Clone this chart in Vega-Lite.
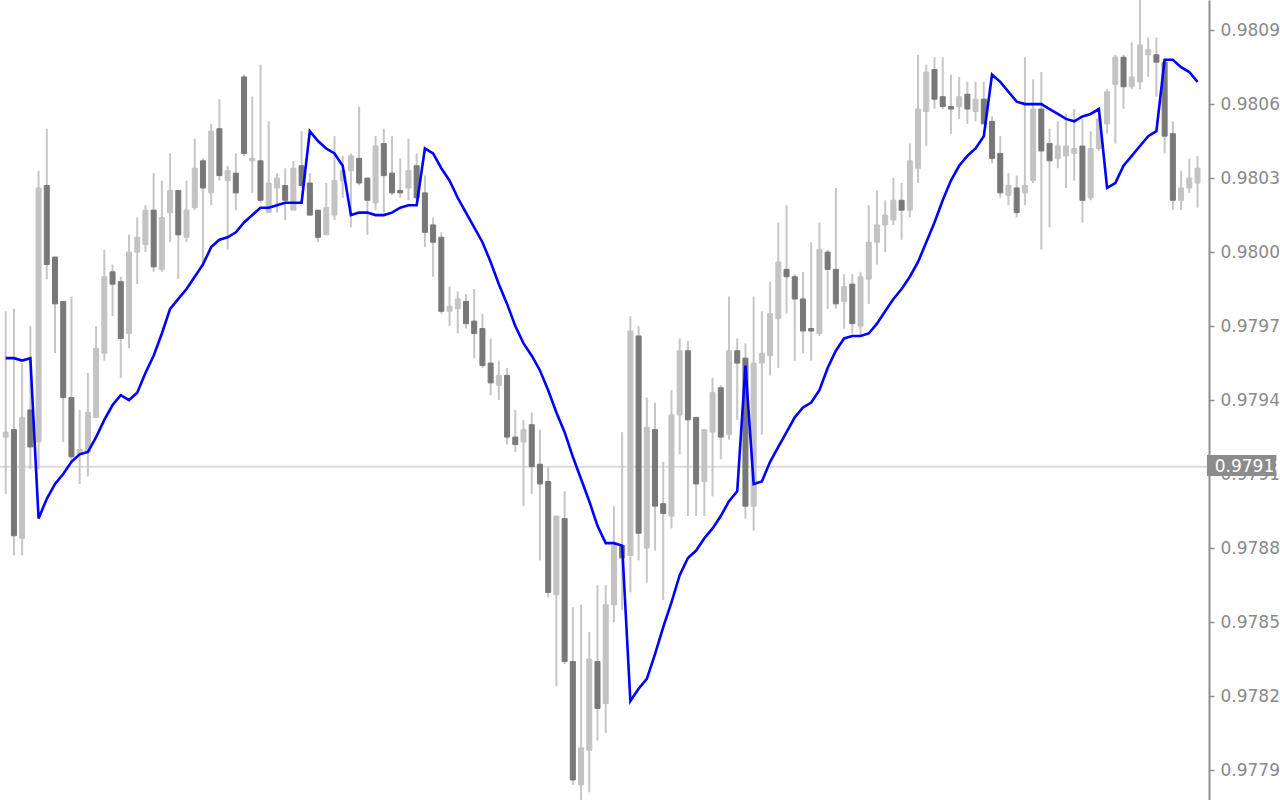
{
  "$schema": "https://vega.github.io/schema/vega-lite/v6.json",
  "width": 1209,
  "height": 800,
  "autosize": {"type": "none"},
  "padding": {"left": 0, "top": 0, "right": 71, "bottom": 0},
  "background": "white",
  "config": {"view": {"stroke": null}},
  "datasets": {
    "bars": [
      {"t":0,"o":0.97930,"h":0.97981,"l":0.97907,"c":0.97932,"m":0.97962},
      {"t":1,"o":0.97933,"h":0.97982,"l":0.97882,"c":0.97890,"m":0.97962},
      {"t":2,"o":0.97889,"h":0.97960,"l":0.97882,"c":0.97938,"m":0.97961},
      {"t":3,"o":0.97941,"h":0.97975,"l":0.97917,"c":0.97926,"m":0.97962},
      {"t":4,"o":0.97928,"h":0.98038,"l":0.97917,"c":0.98031,"m":0.97897},
      {"t":5,"o":0.98032,"h":0.98055,"l":0.97994,"c":0.98000,"m":0.97905},
      {"t":6,"o":0.98003,"h":0.98003,"l":0.97964,"c":0.97984,"m":0.97911},
      {"t":7,"o":0.97985,"h":0.97985,"l":0.97928,"c":0.97946,"m":0.97915},
      {"t":8,"o":0.97946,"h":0.97987,"l":0.97920,"c":0.97922,"m":0.97920},
      {"t":9,"o":0.97923,"h":0.97941,"l":0.97911,"c":0.97925,"m":0.97923},
      {"t":10,"o":0.97924,"h":0.97956,"l":0.97914,"c":0.97940,"m":0.97924},
      {"t":11,"o":0.97938,"h":0.97975,"l":0.97938,"c":0.97966,"m":0.97930},
      {"t":12,"o":0.97964,"h":0.98006,"l":0.97961,"c":0.97995,"m":0.97937},
      {"t":13,"o":0.97997,"h":0.98000,"l":0.97979,"c":0.97992,"m":0.97943},
      {"t":14,"o":0.97993,"h":0.97995,"l":0.97954,"c":0.97970,"m":0.97947},
      {"t":15,"o":0.97972,"h":0.98012,"l":0.97966,"c":0.98005,"m":0.97945},
      {"t":16,"o":0.98005,"h":0.98019,"l":0.97992,"c":0.98011,"m":0.97948},
      {"t":17,"o":0.98008,"h":0.98024,"l":0.98005,"c":0.98022,"m":0.97956},
      {"t":18,"o":0.98022,"h":0.98037,"l":0.97997,"c":0.97999,"m":0.97963},
      {"t":19,"o":0.97998,"h":0.98034,"l":0.97997,"c":0.98019,"m":0.97972},
      {"t":20,"o":0.98021,"h":0.98045,"l":0.98009,"c":0.98030,"m":0.97982},
      {"t":21,"o":0.98030,"h":0.98030,"l":0.97994,"c":0.98012,"m":0.97986},
      {"t":22,"o":0.98011,"h":0.98034,"l":0.98009,"c":0.98022,"m":0.97990},
      {"t":23,"o":0.98023,"h":0.98051,"l":0.98022,"c":0.98039,"m":0.97995},
      {"t":24,"o":0.98042,"h":0.98043,"l":0.97999,"c":0.98031,"m":0.98000},
      {"t":25,"o":0.98029,"h":0.98057,"l":0.98024,"c":0.98054,"m":0.98007},
      {"t":26,"o":0.98055,"h":0.98067,"l":0.98034,"c":0.98036,"m":0.98010},
      {"t":27,"o":0.98034,"h":0.98040,"l":0.98006,"c":0.98038,"m":0.98011},
      {"t":28,"o":0.98037,"h":0.98045,"l":0.98022,"c":0.98029,"m":0.98013},
      {"t":29,"o":0.98076,"h":0.98077,"l":0.98044,"c":0.98045,"m":0.98017},
      {"t":30,"o":0.98042,"h":0.98068,"l":0.98029,"c":0.98043,"m":0.98020},
      {"t":31,"o":0.98042,"h":0.98081,"l":0.98025,"c":0.98026,"m":0.98023},
      {"t":32,"o":0.98021,"h":0.98058,"l":0.98021,"c":0.98033,"m":0.98023},
      {"t":33,"o":0.98031,"h":0.98037,"l":0.98021,"c":0.98035,"m":0.98024},
      {"t":34,"o":0.98032,"h":0.98039,"l":0.98018,"c":0.98026,"m":0.98025},
      {"t":35,"o":0.98022,"h":0.98042,"l":0.98022,"c":0.98039,"m":0.98025},
      {"t":36,"o":0.98040,"h":0.98054,"l":0.98031,"c":0.98032,"m":0.98025},
      {"t":37,"o":0.98033,"h":0.98037,"l":0.98020,"c":0.98020,"m":0.98054},
      {"t":38,"o":0.98022,"h":0.98022,"l":0.98009,"c":0.98011,"m":0.98050},
      {"t":39,"o":0.98012,"h":0.98033,"l":0.98012,"c":0.98023,"m":0.98047},
      {"t":40,"o":0.98020,"h":0.98052,"l":0.98018,"c":0.98034,"m":0.98045},
      {"t":41,"o":0.98034,"h":0.98044,"l":0.98027,"c":0.98038,"m":0.98040},
      {"t":42,"o":0.98038,"h":0.98045,"l":0.98015,"c":0.98044,"m":0.98020},
      {"t":43,"o":0.98043,"h":0.98064,"l":0.98032,"c":0.98033,"m":0.98021},
      {"t":44,"o":0.98035,"h":0.98035,"l":0.98012,"c":0.98026,"m":0.98021},
      {"t":45,"o":0.98025,"h":0.98052,"l":0.98022,"c":0.98048,"m":0.98020},
      {"t":46,"o":0.98049,"h":0.98055,"l":0.98021,"c":0.98036,"m":0.98020},
      {"t":47,"o":0.98037,"h":0.98052,"l":0.98028,"c":0.98029,"m":0.98021},
      {"t":48,"o":0.98030,"h":0.98043,"l":0.98027,"c":0.98029,"m":0.98023},
      {"t":49,"o":0.98031,"h":0.98051,"l":0.98026,"c":0.98038,"m":0.98024},
      {"t":50,"o":0.98040,"h":0.98045,"l":0.98026,"c":0.98027,"m":0.98024},
      {"t":51,"o":0.98029,"h":0.98036,"l":0.98007,"c":0.98013,"m":0.98047},
      {"t":52,"o":0.98016,"h":0.98019,"l":0.97995,"c":0.98009,"m":0.98045},
      {"t":53,"o":0.98011,"h":0.98013,"l":0.97980,"c":0.97981,"m":0.98039},
      {"t":54,"o":0.97981,"h":0.97991,"l":0.97975,"c":0.97983,"m":0.98034},
      {"t":55,"o":0.97982,"h":0.97989,"l":0.97972,"c":0.97986,"m":0.98027},
      {"t":56,"o":0.97985,"h":0.97988,"l":0.97974,"c":0.97976,"m":0.98021},
      {"t":57,"o":0.97977,"h":0.97990,"l":0.97962,"c":0.97972,"m":0.98015},
      {"t":58,"o":0.97974,"h":0.97980,"l":0.97958,"c":0.97959,"m":0.98009},
      {"t":59,"o":0.97960,"h":0.97970,"l":0.97947,"c":0.97952,"m":0.98001},
      {"t":60,"o":0.97951,"h":0.97961,"l":0.97945,"c":0.97955,"m":0.97992},
      {"t":61,"o":0.97955,"h":0.97958,"l":0.97927,"c":0.97930,"m":0.97984},
      {"t":62,"o":0.97930,"h":0.97941,"l":0.97924,"c":0.97927,"m":0.97975},
      {"t":63,"o":0.97928,"h":0.97937,"l":0.97902,"c":0.97933,"m":0.97968},
      {"t":64,"o":0.97935,"h":0.97940,"l":0.97907,"c":0.97918,"m":0.97963},
      {"t":65,"o":0.97919,"h":0.97933,"l":0.97880,"c":0.97911,"m":0.97957},
      {"t":66,"o":0.97912,"h":0.97918,"l":0.97865,"c":0.97867,"m":0.97949},
      {"t":67,"o":0.97866,"h":0.97898,"l":0.97829,"c":0.97898,"m":0.97940},
      {"t":68,"o":0.97897,"h":0.97908,"l":0.97838,"c":0.97839,"m":0.97932},
      {"t":69,"o":0.97839,"h":0.97861,"l":0.97789,"c":0.97791,"m":0.97922},
      {"t":70,"o":0.97789,"h":0.97862,"l":0.97782,"c":0.97804,"m":0.97913},
      {"t":71,"o":0.97803,"h":0.97851,"l":0.97786,"c":0.97840,"m":0.97904},
      {"t":72,"o":0.97839,"h":0.97870,"l":0.97807,"c":0.97820,"m":0.97894},
      {"t":73,"o":0.97822,"h":0.97870,"l":0.97810,"c":0.97862,"m":0.97887},
      {"t":74,"o":0.97862,"h":0.97902,"l":0.97855,"c":0.97886,"m":0.97887},
      {"t":75,"o":0.97886,"h":0.97932,"l":0.97860,"c":0.97881,"m":0.97886},
      {"t":76,"o":0.97882,"h":0.97979,"l":0.97867,"c":0.97973,"m":0.97823},
      {"t":77,"o":0.97971,"h":0.97975,"l":0.97880,"c":0.97891,"m":0.97828},
      {"t":78,"o":0.97885,"h":0.97946,"l":0.97871,"c":0.97934,"m":0.97832},
      {"t":79,"o":0.97933,"h":0.97944,"l":0.97884,"c":0.97902,"m":0.97842},
      {"t":80,"o":0.97903,"h":0.97920,"l":0.97864,"c":0.97899,"m":0.97853},
      {"t":81,"o":0.97898,"h":0.97949,"l":0.97893,"c":0.97939,"m":0.97863},
      {"t":82,"o":0.97939,"h":0.97970,"l":0.97923,"c":0.97965,"m":0.97874},
      {"t":83,"o":0.97965,"h":0.97969,"l":0.97898,"c":0.97937,"m":0.97881},
      {"t":84,"o":0.97938,"h":0.97938,"l":0.97898,"c":0.97911,"m":0.97884},
      {"t":85,"o":0.97912,"h":0.97933,"l":0.97898,"c":0.97933,"m":0.97889},
      {"t":86,"o":0.97932,"h":0.97954,"l":0.97906,"c":0.97948,"m":0.97893},
      {"t":87,"o":0.97950,"h":0.97951,"l":0.97921,"c":0.97930,"m":0.97898},
      {"t":88,"o":0.97931,"h":0.97987,"l":0.97929,"c":0.97965,"m":0.97904},
      {"t":89,"o":0.97965,"h":0.97970,"l":0.97937,"c":0.97960,"m":0.97908},
      {"t":90,"o":0.97962,"h":0.97968,"l":0.97897,"c":0.97902,"m":0.97959},
      {"t":91,"o":0.97902,"h":0.97987,"l":0.97892,"c":0.97960,"m":0.97911},
      {"t":92,"o":0.97960,"h":0.97981,"l":0.97931,"c":0.97964,"m":0.97912},
      {"t":93,"o":0.97963,"h":0.97993,"l":0.97955,"c":0.97980,"m":0.97920},
      {"t":94,"o":0.97978,"h":0.98017,"l":0.97958,"c":0.98001,"m":0.97926},
      {"t":95,"o":0.97998,"h":0.98024,"l":0.97980,"c":0.97995,"m":0.97932},
      {"t":96,"o":0.97995,"h":0.97996,"l":0.97961,"c":0.97986,"m":0.97938},
      {"t":97,"o":0.97986,"h":0.97997,"l":0.97964,"c":0.97973,"m":0.97942},
      {"t":98,"o":0.97974,"h":0.98009,"l":0.97961,"c":0.97973,"m":0.97944},
      {"t":99,"o":0.97972,"h":0.98017,"l":0.97971,"c":0.98006,"m":0.97949},
      {"t":100,"o":0.98005,"h":0.98006,"l":0.97982,"c":0.97998,"m":0.97958},
      {"t":101,"o":0.97998,"h":0.98031,"l":0.97982,"c":0.97984,"m":0.97965},
      {"t":102,"o":0.97985,"h":0.97996,"l":0.97974,"c":0.97991,"m":0.97970},
      {"t":103,"o":0.97992,"h":0.97996,"l":0.97972,"c":0.97976,"m":0.97971},
      {"t":104,"o":0.97975,"h":0.97997,"l":0.97971,"c":0.97995,"m":0.97971},
      {"t":105,"o":0.97994,"h":0.98024,"l":0.97984,"c":0.98009,"m":0.97972},
      {"t":106,"o":0.98009,"h":0.98030,"l":0.98000,"c":0.98016,"m":0.97976},
      {"t":107,"o":0.98016,"h":0.98026,"l":0.98005,"c":0.98020,"m":0.97981},
      {"t":108,"o":0.98018,"h":0.98035,"l":0.98016,"c":0.98026,"m":0.97986},
      {"t":109,"o":0.98026,"h":0.98033,"l":0.98010,"c":0.98022,"m":0.97990},
      {"t":110,"o":0.98022,"h":0.98049,"l":0.98019,"c":0.98042,"m":0.97995},
      {"t":111,"o":0.98039,"h":0.98085,"l":0.98033,"c":0.98063,"m":0.98001},
      {"t":112,"o":0.98062,"h":0.98081,"l":0.98048,"c":0.98078,"m":0.98009},
      {"t":113,"o":0.98079,"h":0.98084,"l":0.98063,"c":0.98067,"m":0.98017},
      {"t":114,"o":0.98068,"h":0.98084,"l":0.98063,"c":0.98064,"m":0.98026},
      {"t":115,"o":0.98064,"h":0.98077,"l":0.98053,"c":0.98063,"m":0.98034},
      {"t":116,"o":0.98064,"h":0.98076,"l":0.98059,"c":0.98068,"m":0.98040},
      {"t":117,"o":0.98069,"h":0.98074,"l":0.98057,"c":0.98063,"m":0.98044},
      {"t":118,"o":0.98062,"h":0.98074,"l":0.98058,"c":0.98067,"m":0.98047},
      {"t":119,"o":0.98067,"h":0.98074,"l":0.98057,"c":0.98057,"m":0.98052},
      {"t":120,"o":0.98058,"h":0.98060,"l":0.98041,"c":0.98043,"m":0.98077},
      {"t":121,"o":0.98045,"h":0.98052,"l":0.98027,"c":0.98029,"m":0.98074},
      {"t":122,"o":0.98028,"h":0.98037,"l":0.98024,"c":0.98032,"m":0.98070},
      {"t":123,"o":0.98031,"h":0.98036,"l":0.98019,"c":0.98021,"m":0.98066},
      {"t":124,"o":0.98029,"h":0.98084,"l":0.98024,"c":0.98032,"m":0.98065},
      {"t":125,"o":0.98034,"h":0.98075,"l":0.98033,"c":0.98063,"m":0.98065},
      {"t":126,"o":0.98063,"h":0.98078,"l":0.98006,"c":0.98046,"m":0.98065},
      {"t":127,"o":0.98049,"h":0.98055,"l":0.98015,"c":0.98042,"m":0.98063},
      {"t":128,"o":0.98043,"h":0.98058,"l":0.98039,"c":0.98048,"m":0.98061},
      {"t":129,"o":0.98044,"h":0.98061,"l":0.98031,"c":0.98048,"m":0.98059},
      {"t":130,"o":0.98045,"h":0.98063,"l":0.98034,"c":0.98047,"m":0.98058},
      {"t":131,"o":0.98048,"h":0.98059,"l":0.98017,"c":0.98026,"m":0.98060},
      {"t":132,"o":0.98027,"h":0.98054,"l":0.98026,"c":0.98047,"m":0.98061},
      {"t":133,"o":0.98047,"h":0.98063,"l":0.98046,"c":0.98059,"m":0.98063},
      {"t":134,"o":0.98057,"h":0.98071,"l":0.98053,"c":0.98070,"m":0.98031},
      {"t":135,"o":0.98073,"h":0.98085,"l":0.98049,"c":0.98084,"m":0.98033},
      {"t":136,"o":0.98084,"h":0.98085,"l":0.98063,"c":0.98072,"m":0.98040},
      {"t":137,"o":0.98072,"h":0.98090,"l":0.98071,"c":0.98076,"m":0.98044},
      {"t":138,"o":0.98074,"h":0.98108,"l":0.98071,"c":0.98089,"m":0.98048},
      {"t":139,"o":0.98085,"h":0.98092,"l":0.98076,"c":0.98087,"m":0.98052},
      {"t":140,"o":0.98085,"h":0.98092,"l":0.98068,"c":0.98082,"m":0.98054},
      {"t":141,"o":0.98082,"h":0.98083,"l":0.98045,"c":0.98052,"m":0.98083},
      {"t":142,"o":0.98053,"h":0.98058,"l":0.98022,"c":0.98026,"m":0.98083},
      {"t":143,"o":0.98026,"h":0.98038,"l":0.98022,"c":0.98031,"m":0.98080},
      {"t":144,"o":0.98031,"h":0.98043,"l":0.98029,"c":0.98035,"m":0.98078},
      {"t":145,"o":0.98033,"h":0.98044,"l":0.98023,"c":0.98039,"m":0.98074}
    ]
  },
  "layer": [
    {
      "data": {"values": [{}]},
      "mark": {"type": "rule", "color": "#dcdcdc", "strokeWidth": 2},
      "encoding": {
        "y": {"datum": 0.97918, "type": "quantitative",
          "scale": {"domain": [0.9778287, 0.981072], "nice": false, "zero": false},
          "axis": {"orient": "right", "title": null, "values": [0.97795,0.97825,0.97855,0.97885,0.97915,0.97945,0.97975,0.98005,0.98035,0.98065,0.98095], "format": ".5f", "grid": false, "domainColor": "#8e8e8e", "domainWidth": 2, "tickColor": "#8e8e8e", "tickSize": 5, "tickWidth": 1.5, "labelColor": "#8a8a8a", "labelFont": "DejaVu Sans", "labelFontSize": 17, "labelPadding": 6, "labelBound": false, "labelFlush": false, "labelOverlap": false}}
      }
    },
    {
      "data": {"name": "bars"},
      "mark": {"type": "rule", "color": "#c6c6c6", "strokeWidth": 2},
      "encoding": {
        "x": {"field": "t", "type": "quantitative", "scale": {"domain": [-0.085, 145.79], "nice": false, "zero": false}, "axis": null},
        "y": {"field": "l", "type": "quantitative",
          "scale": {"domain": [0.9778287, 0.981072], "nice": false, "zero": false},
          "axis": {"orient": "right", "title": null, "values": [0.97795,0.97825,0.97855,0.97885,0.97915,0.97945,0.97975,0.98005,0.98035,0.98065,0.98095], "format": ".5f", "grid": false, "domainColor": "#8e8e8e", "domainWidth": 2, "tickColor": "#8e8e8e", "tickSize": 5, "tickWidth": 1.5, "labelColor": "#8a8a8a", "labelFont": "DejaVu Sans", "labelFontSize": 17, "labelPadding": 6, "labelBound": false, "labelFlush": false, "labelOverlap": false}},
        "y2": {"field": "h"}
      }
    },
    {
      "data": {"name": "bars"},
      "mark": {"type": "bar", "size": 5, "strokeWidth": 1},
      "encoding": {
        "x": {"field": "t", "type": "quantitative", "scale": {"domain": [-0.085, 145.79], "nice": false, "zero": false}, "axis": null},
        "y": {"field": "o", "type": "quantitative",
          "scale": {"domain": [0.9778287, 0.981072], "nice": false, "zero": false},
          "axis": {"orient": "right", "title": null, "values": [0.97795,0.97825,0.97855,0.97885,0.97915,0.97945,0.97975,0.98005,0.98035,0.98065,0.98095], "format": ".5f", "grid": false, "domainColor": "#8e8e8e", "domainWidth": 2, "tickColor": "#8e8e8e", "tickSize": 5, "tickWidth": 1.5, "labelColor": "#8a8a8a", "labelFont": "DejaVu Sans", "labelFontSize": 17, "labelPadding": 6, "labelBound": false, "labelFlush": false, "labelOverlap": false}},
        "y2": {"field": "c"},
        "fill": {"condition": {"test": "datum.c >= datum.o", "value": "#c3c3c3"}, "value": "#787878"},
        "stroke": {"condition": {"test": "datum.c >= datum.o", "value": "#c3c3c3"}, "value": "#787878"}
      }
    },
    {
      "data": {"name": "bars"},
      "mark": {"type": "line", "color": "#0000ff", "strokeWidth": 2.6},
      "encoding": {
        "x": {"field": "t", "type": "quantitative", "scale": {"domain": [-0.085, 145.79], "nice": false, "zero": false}, "axis": null},
        "y": {"field": "m", "type": "quantitative",
          "scale": {"domain": [0.9778287, 0.981072], "nice": false, "zero": false},
          "axis": {"orient": "right", "title": null, "values": [0.97795,0.97825,0.97855,0.97885,0.97915,0.97945,0.97975,0.98005,0.98035,0.98065,0.98095], "format": ".5f", "grid": false, "domainColor": "#8e8e8e", "domainWidth": 2, "tickColor": "#8e8e8e", "tickSize": 5, "tickWidth": 1.5, "labelColor": "#8a8a8a", "labelFont": "DejaVu Sans", "labelFontSize": 17, "labelPadding": 6, "labelBound": false, "labelFlush": false, "labelOverlap": false}}
      }
    },
    {
      "data": {"values": [{}]},
      "mark": {"type": "rect", "color": "#8c8c8c", "clip": false},
      "encoding": {
        "x": {"datum": 146.15, "type": "quantitative"},
        "x2": {"datum": 154.6},
        "y": {"datum": 0.979227, "type": "quantitative"},
        "y2": {"datum": 0.979142}
      }
    },
    {
      "data": {"values": [{}]},
      "mark": {"type": "text", "align": "left", "baseline": "middle", "color": "#ffffff", "font": "DejaVu Sans", "fontSize": 17, "clip": false},
      "encoding": {
        "x": {"datum": 147.1, "type": "quantitative"},
        "y": {"datum": 0.97918, "type": "quantitative"},
        "text": {"value": "0.97918"}
      }
    }
  ]
}
